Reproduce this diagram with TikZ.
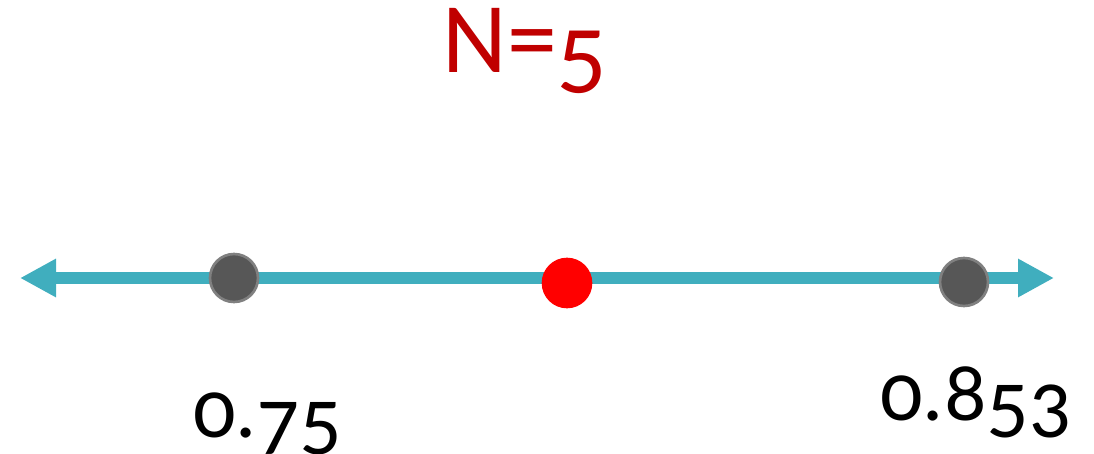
\documentclass[tikz,border=0pt]{standalone}
\usepackage{fontspec}
\setmainfont[Numbers=OldStyle]{Carlito}
\usetikzlibrary{arrows.meta}
\definecolor{teal1}{HTML}{40AEBE}
\definecolor{dgray}{HTML}{575757}
\definecolor{lgray}{HTML}{808080}
\definecolor{dred}{HTML}{C00000}
\newcommand\lowdig[1]{\raisebox{-0.11em}{#1}}
\begin{document}
\begin{tikzpicture}[x=0.75pt,y=-0.75pt,
  dot/.style={circle,minimum size=38pt,inner sep=0pt},
  graydot/.style={dot,fill=dgray,draw=lgray,line width=2pt,minimum size=36pt},
  reddot/.style={dot,fill=red},
  lbl/.style={anchor=base west,inner sep=0pt,font=\fontsize{63}{70}\selectfont}]
\useasboundingbox (0,0) rectangle (1094,453);
\coordinate (L) at (20,278);
\coordinate (R) at (1054,278);
\draw[teal1,line width=8.5pt,{Triangle[width=27pt,length=27pt]}-{Triangle[width=27pt,length=27pt]}] (L) -- (R);
\node[graydot] (a) at (234,278) {};
\node[reddot] (m) at (567,283) {};
\node[graydot] (b) at (964,282) {};
\node[anchor=base,inner sep=0pt,text=dred,font=\fontsize{75}{80}\selectfont] (t) at (525,73) {N=\lowdig{5}};
\node[lbl] (la) at (193,437) {0.\lowdig{7}\lowdig{5}};
\node[lbl] (lb) at (880,420) {0.8\lowdig{5}\lowdig{3}};
\end{tikzpicture}
\end{document}
